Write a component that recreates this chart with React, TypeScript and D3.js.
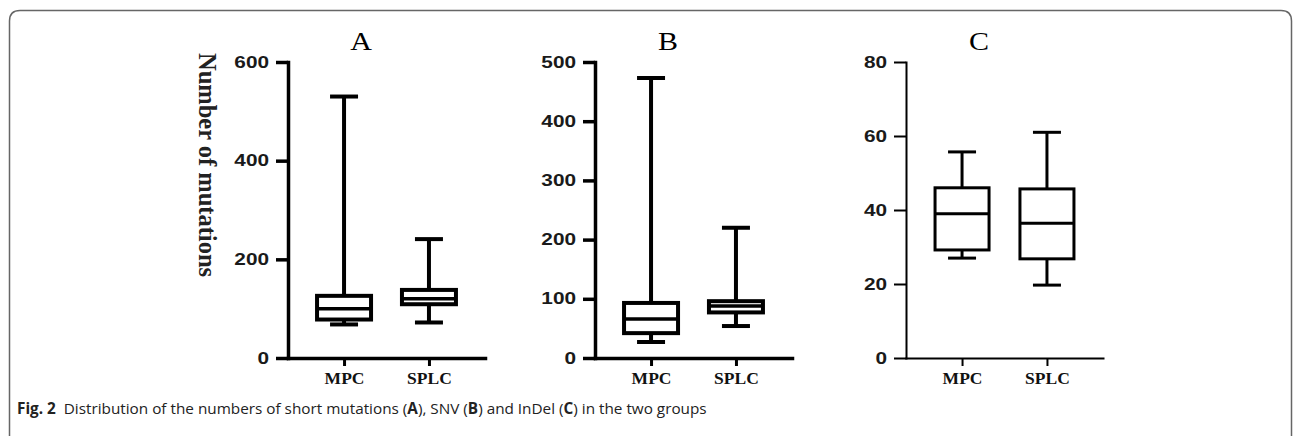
import { useEffect, useRef } from 'react';
import * as d3 from 'd3';

// groups on the x axis
const groups = ['MPC', 'SPLC'];

// panel titles and y domains
const panelTitles = ['A', 'B', 'C'];
const panelYMax = [600, 500, 80];
const panelYTicks = [
  [0, 200, 400, 600],
  [0, 100, 200, 300, 400, 500],
  [0, 20, 40, 60, 80],
];

// box stats: [min, q1, median, q3, max] per group
const shortMutations = [
  [68, 78, 100, 126, 530],
  [72, 109, 120, 138, 241],
];
const snv = [
  [27, 42, 66, 93, 473],
  [54, 77, 88, 96, 220],
];
const indel = [
  [27, 29.2, 39, 46, 55.7],
  [19.7, 26.8, 36.4, 45.7, 61],
];
const panelData = [shortMutations, snv, indel];

const yLabel = 'Number of mutations';

const W = 1293;
const H = 436;

const App = () => {
  const svgRef = useRef<SVGSVGElement>(null);

  useEffect(() => {
    const svg = d3.select(svgRef.current);
    svg.selectAll('*').remove();

    // card border (open at the bottom)
    svg.append('path')
      .attr('d', `M9.5,${H} V21 Q9.5,10.5 20,10.5 H1281 Q1291.5,10.5 1291.5,21 V${H}`)
      .attr('fill', 'none')
      .attr('stroke', '#666')
      .attr('stroke-width', 1.5);

    const panelX = [288, 595, 906];
    const panelW = 197;
    const top = 62;
    const bottom = 358;
    const sx = 1.3;

    panelData.forEach((stats, p) => {
      const x0 = panelX[p];
      const thin = p === 2;
      const lw = thin ? 2 : 3.5;
      const bw = thin ? 3 : 4;

      const x = d3.scalePoint<string>()
        .domain(groups)
        .range([x0, x0 + panelW])
        .padding(0.66);
      const y = d3.scaleLinear()
        .domain([0, panelYMax[p]])
        .range([bottom, top]);

      const g = svg.append('g');

      // y axis
      const yAxis = g.append('g')
        .attr('transform', `translate(${x0},0)`)
        .call(d3.axisLeft(y).tickValues(panelYTicks[p]).tickSize(12).tickSizeOuter(0).tickPadding(7));
      yAxis.select('.domain').attr('stroke-width', lw).attr('stroke-linecap', 'square');
      yAxis.selectAll('line').attr('stroke-width', lw);
      yAxis.selectAll('text')
        .attr('font-family', '"Liberation Sans", Arial, sans-serif')
        .attr('font-weight', 'bold')
        .attr('font-size', 16)
        .attr('fill', '#1a1a1a')
        .attr('x', -19 / sx)
        .attr('transform', `scale(${sx},1)`);

      // x axis
      const xAxis = g.append('g')
        .attr('transform', `translate(0,${bottom})`)
        .call(d3.axisBottom(x).tickSize(8).tickSizeOuter(0).tickPadding(6));
      xAxis.select('.domain').attr('stroke-width', lw).attr('stroke-linecap', 'square');
      xAxis.selectAll('line').attr('stroke-width', thin ? 2 : 3);
      xAxis.selectAll('text')
        .attr('font-family', '"Liberation Serif", "Times New Roman", serif')
        .attr('font-weight', 'bold')
        .attr('font-size', 17.5)
        .attr('fill', '#111');

      // title
      g.append('text')
        .attr('x', x0 + 73)
        .attr('y', 50)
        .attr('text-anchor', 'middle')
        .attr('font-family', '"Liberation Serif", "Times New Roman", serif')
        .attr('font-size', 25)
        .attr('transform', `translate(${(x0 + 73) * -0.2},0) scale(1.2,1)`)
        .text(panelTitles[p]);

      // boxes
      const boxHalf = 27;
      const capHalf = 14;
      const boxes = g.selectAll('.box')
        .data(stats.map((s, i) => ({ s, name: groups[i] })))
        .enter()
        .append('g')
        .attr('class', 'box');

      // whiskers
      boxes.append('line')
        .attr('x1', d => x(d.name)!)
        .attr('x2', d => x(d.name)!)
        .attr('y1', d => y(d.s[4]))
        .attr('y2', d => y(d.s[3]))
        .attr('stroke', '#000')
        .attr('stroke-width', bw);
      boxes.append('line')
        .attr('x1', d => x(d.name)!)
        .attr('x2', d => x(d.name)!)
        .attr('y1', d => y(d.s[1]))
        .attr('y2', d => y(d.s[0]))
        .attr('stroke', '#000')
        .attr('stroke-width', bw);
      // caps
      [0, 4].forEach(k => {
        boxes.append('line')
          .attr('x1', d => x(d.name)! - capHalf)
          .attr('x2', d => x(d.name)! + capHalf)
          .attr('y1', d => y(d.s[k]))
          .attr('y2', d => y(d.s[k]))
          .attr('stroke', '#000')
          .attr('stroke-width', bw);
      });
      // box
      boxes.append('rect')
        .attr('x', d => x(d.name)! - boxHalf)
        .attr('width', boxHalf * 2)
        .attr('y', d => y(d.s[3]))
        .attr('height', d => y(d.s[1]) - y(d.s[3]))
        .attr('fill', '#fff')
        .attr('stroke', '#000')
        .attr('stroke-width', bw);
      // median
      boxes.append('line')
        .attr('x1', d => x(d.name)! - boxHalf)
        .attr('x2', d => x(d.name)! + boxHalf)
        .attr('y1', d => y(d.s[2]))
        .attr('y2', d => y(d.s[2]))
        .attr('stroke', '#000')
        .attr('stroke-width', thin ? 3 : 3.5);
    });

    // y label (panel A)
    svg.append('text')
      .attr('transform', 'translate(199,165) rotate(90)')
      .attr('text-anchor', 'middle')
      .attr('font-family', '"Liberation Serif", "Times New Roman", serif')
      .attr('font-weight', 'bold')
      .attr('font-size', 24.5)
      .attr('fill', '#222')
      .text(yLabel);

    // caption
    const cap = svg.append('text')
      .attr('x', 17)
      .attr('y', 414)
      .attr('font-family', '"Open Sans", "Noto Sans", sans-serif')
      .attr('font-size', 15.3)
      .attr('fill', '#222');
    const parts: [string, boolean][] = [
      ['Fig. 2', true],
      ['\u00a0\u00a0Distribution of the numbers of short mutations (', false],
      ['A', true],
      ['), SNV (', false],
      ['B', true],
      [') and InDel (', false],
      ['C', true],
      [') in the two groups', false],
    ];
    parts.forEach(([t, b]) => {
      cap.append('tspan')
        .attr('font-weight', b ? 'bold' : 'normal')
        .text(t);
    });
  }, []);

  return (
    <div style={{ position: 'absolute', left: 0, top: 0 }}>
      <svg ref={svgRef} width={W} height={H} style={{ display: 'block', background: '#fff' }}></svg>
    </div>
  );
};

export default App;
